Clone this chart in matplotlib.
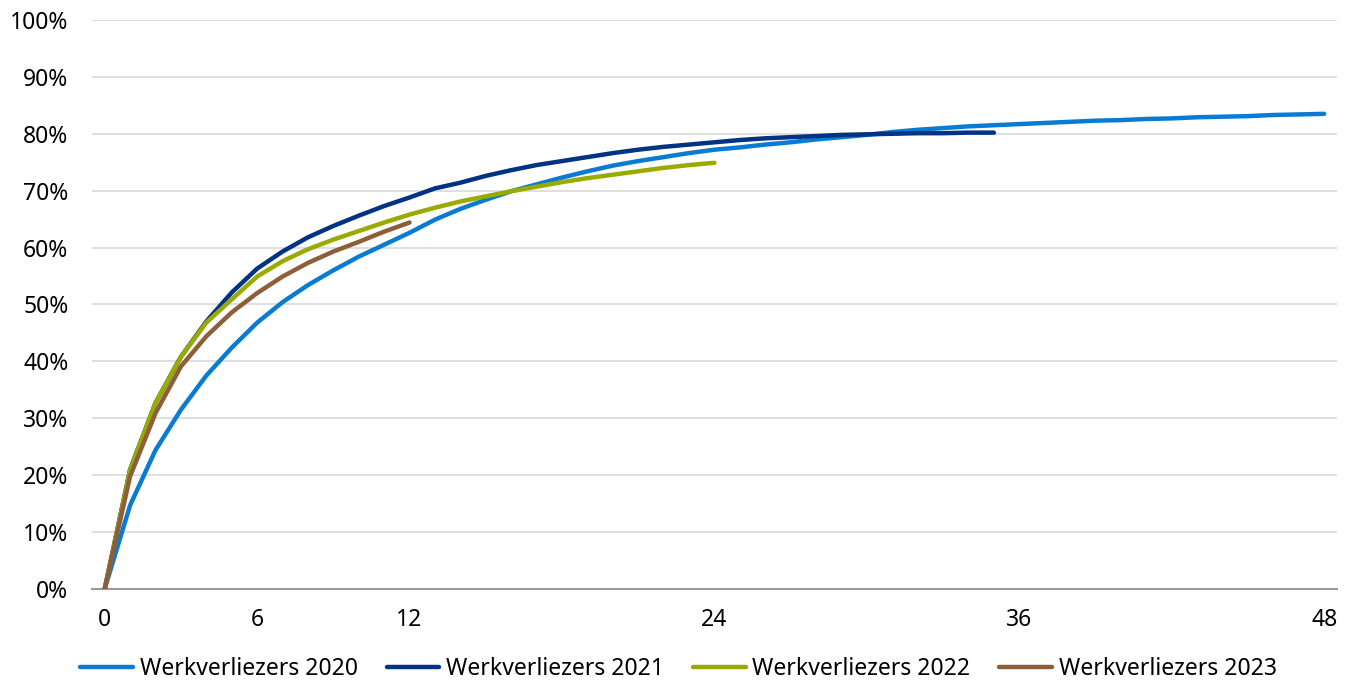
import matplotlib.pyplot as plt
from matplotlib.ticker import FuncFormatter

plt.rcParams['font.family'] = ['Noto Sans', 'DejaVu Sans']

# cumulative share (%) per month since job loss
wv_2020 = [0, 14.7, 24.4, 31.5, 37.5, 42.4, 46.8, 50.4, 53.4, 56.0, 58.4, 60.5, 62.6,
           64.9, 66.8, 68.4, 69.9, 71.1, 72.3, 73.4, 74.4, 75.2, 75.9, 76.6, 77.2,
           77.6, 78.1, 78.5, 79.0, 79.4, 79.8, 80.3, 80.7, 81.0, 81.3, 81.5, 81.7,
           81.9, 82.1, 82.3, 82.4, 82.6, 82.7, 82.9, 83.0, 83.1, 83.3, 83.4, 83.5]
wv_2021 = [0, 21.0, 32.7, 40.8, 47.0, 52.1, 56.3, 59.3, 61.8, 63.8, 65.6, 67.3, 68.8,
           70.4, 71.4, 72.6, 73.6, 74.5, 75.2, 75.9, 76.6, 77.2, 77.7, 78.1, 78.5,
           78.9, 79.2, 79.4, 79.6, 79.8, 79.9, 80.0, 80.1, 80.1, 80.2, 80.2]
wv_2022 = [0, 20.9, 32.7, 40.8, 46.8, 50.9, 54.9, 57.6, 59.7, 61.4, 62.9, 64.4, 65.8,
           67.0, 68.1, 69.0, 69.9, 70.7, 71.5, 72.2, 72.8, 73.4, 74.0, 74.5, 74.9]
wv_2023 = [0, 19.8, 30.9, 39.1, 44.4, 48.6, 52.0, 54.9, 57.3, 59.3, 61.0, 62.8, 64.4]

series = [
    ('Werkverliezers 2020', wv_2020, '#0a7bd2'),
    ('Werkverliezers 2021', wv_2021, '#003383'),
    ('Werkverliezers 2022', wv_2022, '#9aab00'),
    ('Werkverliezers 2023', wv_2023, '#8c5e3a'),
]
x_ticks = [0, 6, 12, 24, 36, 48]

fig = plt.figure(figsize=(13.49, 6.84), dpi=100)
ax = fig.add_axes([0.0682, 0.139, 0.9228, 0.8318])

for label, vals, color in series:
    ax.plot(range(len(vals)), vals, color=color, linewidth=3.2, label=label,
            solid_capstyle='round', zorder=3)

ax.set_xlim(-0.5, 48.5)
ax.set_ylim(0, 100)
ax.set_yticks(range(0, 101, 10))
ax.yaxis.set_major_formatter(FuncFormatter(lambda v, p: f'{v:.0f}%'))
ax.set_xticks(x_ticks)
ax.tick_params(length=0, labelsize=16.5, colors='black')
ax.tick_params(axis='y', pad=17)
ax.tick_params(axis='x', pad=14)
ax.grid(axis='y', color='#d9d9d9', linewidth=1.2)
ax.set_axisbelow(True)
for s in ['top', 'right', 'left']:
    ax.spines[s].set_visible(False)
ax.spines['bottom'].set_color('#999999')
ax.spines['bottom'].set_linewidth(1.5)

fig.legend(loc='lower center', bbox_to_anchor=(0.503, -0.026), ncol=4, frameon=False,
           fontsize=16.5, handlelength=2.3, handletextpad=0.3, columnspacing=1.25)

fig.savefig('out.png', dpi=100)
